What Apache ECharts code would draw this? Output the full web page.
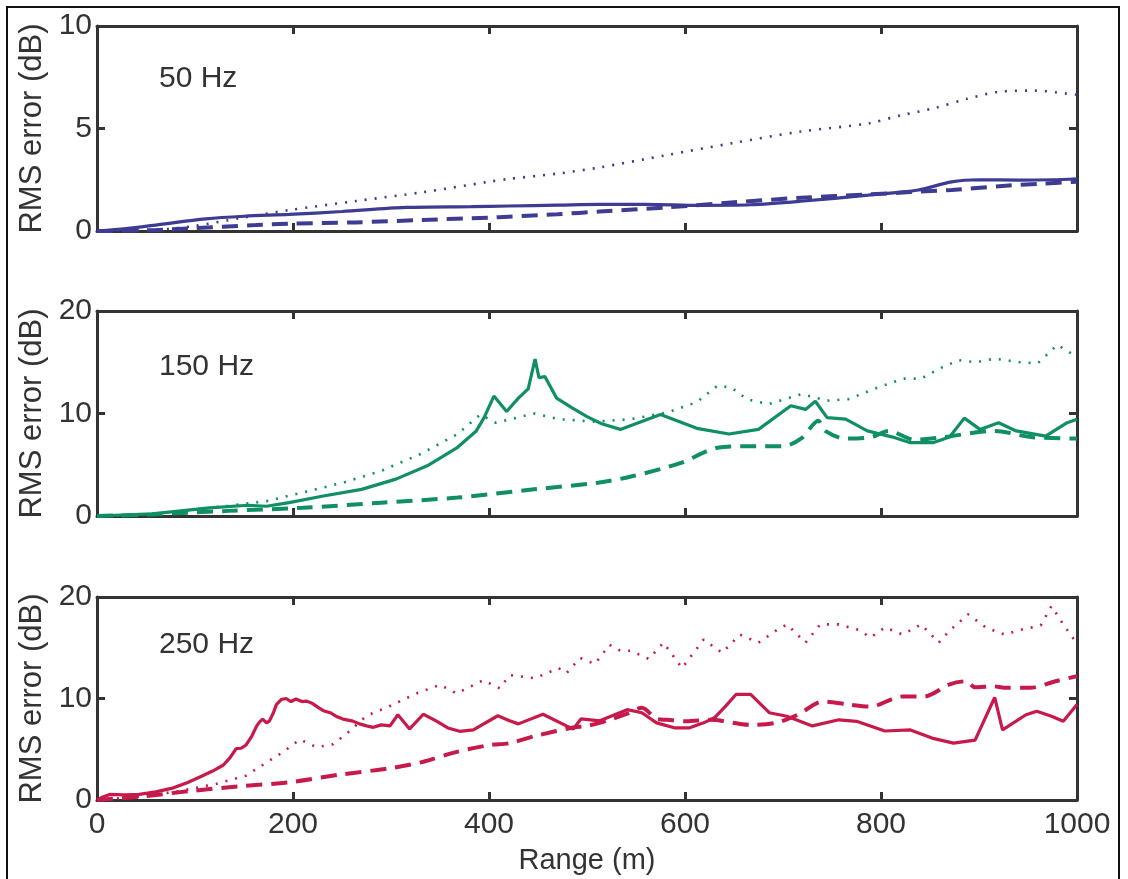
<!DOCTYPE html>
<html>
<head>
<meta charset="utf-8">
<script src="https://cdn.jsdelivr.net/npm/echarts@6/dist/echarts.min.js"></script>
<style>
html,body{margin:0;padding:0;background:#fff;}
#chart{width:1128px;height:879px;}
</style>
</head>
<body>
<div id="chart"></div>
<script>
// ---------- DATA ----------
const xTicks = [0, 200, 400, 600, 800, 1000];
const panelLabels = ['50 Hz', '150 Hz', '250 Hz'];
const yMax = [10, 20, 20];

// 50 Hz
const hz50Solid = [[0,0],[30,0.12],[60,0.29],[111,0.59],[150,0.72],[196,0.81],[250,0.95],[315,1.15],[382,1.19],[420,1.22],[470,1.26],[513,1.3],[560,1.3],[615,1.25],[667,1.28],[718,1.45],[787,1.75],[838,2.0],[872,2.4],[900,2.5],[941,2.48],[975,2.5],[1000,2.55]];
const hz50Dashed = [[0,0],[50,0.03],[94,0.13],[162,0.29],[196,0.36],[264,0.42],[332,0.54],[400,0.65],[420,0.7],[470,0.82],[513,0.95],[581,1.15],[650,1.4],[718,1.62],[787,1.78],[830,1.9],[872,2.0],[924,2.2],[960,2.3],[1000,2.4]];
const hz50Dotted = [[0,0],[60,0.05],[100,0.25],[145,0.62],[196,1.02],[264,1.46],[332,1.89],[400,2.4],[420,2.54],[470,2.8],[513,3.1],[581,3.7],[650,4.3],[718,4.85],[787,5.25],[821,5.65],[855,6.0],[888,6.45],[922,6.8],[957,6.85],[990,6.7],[1000,6.65]];

// 150 Hz
const hz150Solid = [[0,0],[56,0.2],[115,0.8],[154,1.05],[173,0.95],[196,1.3],[231,1.95],[270,2.6],[305,3.6],[337,4.9],[368,6.7],[387,8.3],[395,9.6],[405,11.7],[418,10.2],[430,11.5],[440,12.4],[447,15.3],[451,13.5],[457,13.6],[469,11.5],[484,10.6],[500,9.7],[515,9.0],[534,8.45],[575,9.9],[612,8.55],[645,8.0],[675,8.45],[708,10.75],[723,10.4],[733,11.2],[745,9.6],[764,9.45],[786,8.3],[812,7.7],[830,7.15],[853,7.15],[870,7.7],[885,9.55],[901,8.45],[920,9.1],[938,8.3],[968,7.8],[990,9.1],[1000,9.45]];
const hz150Dashed = [[0,0],[56,0.15],[134,0.5],[210,0.8],[290,1.3],[368,1.8],[446,2.6],[511,3.25],[545,3.85],[595,5.15],[633,6.65],[663,6.8],[700,6.8],[719,7.6],[736,9.3],[743,8.3],[764,7.55],[790,7.7],[808,8.3],[834,7.45],[864,7.7],[916,8.3],[953,7.7],[1000,7.55]];
const hz150Dotted = [[0,0],[56,0.15],[134,1.0],[173,1.45],[210,2.3],[251,3.25],[290,4.4],[329,6.0],[368,8.0],[391,9.9],[407,9.1],[446,10.0],[471,9.45],[508,9.2],[545,9.45],[582,10.1],[612,11.1],[633,12.7],[647,12.55],[663,11.4],[685,10.9],[719,11.9],[745,11.25],[767,11.4],[797,12.55],[823,13.4],[841,13.4],[860,14.4],[879,15.2],[897,15.0],[916,15.35],[942,15.0],[960,14.9],[980,16.7],[997,15.7],[1000,15.6]];

// 250 Hz
const hz250Solid = [[0,0],[6,0.3],[13,0.55],[28,0.5],[43,0.55],[60,0.8],[78,1.2],[92,1.7],[105,2.26],[118,2.85],[129,3.45],[136,4.2],[142,5.06],[147,5.1],[152,5.4],[158,6.3],[163,7.3],[166,7.7],[169,7.97],[173,7.6],[176,7.8],[180,8.6],[183,9.4],[188,9.9],[193,10.0],[198,9.7],[203,9.95],[209,9.7],[214,9.74],[220,9.5],[226,9.1],[231,8.8],[238,8.6],[245,8.2],[251,7.97],[260,7.8],[268,7.5],[275,7.3],[282,7.16],[290,7.4],[299,7.3],[307,8.4],[319,7.0],[333,8.45],[346,7.8],[358,7.1],[370,6.77],[384,6.9],[409,8.3],[421,7.8],[430,7.5],[455,8.45],[479,7.3],[486,7.0],[494,8.0],[513,7.8],[541,8.9],[556,8.6],[571,7.6],[590,7.1],[604,7.1],[619,7.6],[630,8.1],[641,9.2],[652,10.4],[667,10.4],[686,8.6],[704,8.25],[730,7.3],[757,7.9],[775,7.75],[804,6.8],[830,6.9],[852,6.1],[874,5.6],[896,5.9],[916,10.1],[924,6.9],[948,8.4],[959,8.75],[974,8.25],[986,7.75],[1000,9.4]];
const hz250Dashed = [[0,0],[43,0.32],[94,0.87],[145,1.35],[196,1.74],[248,2.5],[299,3.13],[333,3.77],[367,4.74],[400,5.4],[421,5.6],[447,6.3],[486,7.15],[500,7.3],[520,7.8],[541,8.5],[556,9.1],[571,8.0],[582,7.9],[601,7.75],[626,7.9],[667,7.4],[693,7.6],[715,8.4],[741,9.7],[767,9.4],[789,9.2],[822,10.2],[844,10.2],[870,11.4],[887,11.7],[896,11.1],[915,11.2],[926,11.05],[952,11.05],[978,11.7],[1000,12.2]];
const hz250Dotted = [[0,0],[40,0.3],[84,0.87],[122,1.6],[152,2.4],[169,3.45],[190,4.74],[207,5.97],[224,5.2],[241,5.5],[258,6.8],[275,8.3],[299,9.26],[326,10.5],[350,11.35],[367,10.5],[394,11.8],[411,11.0],[421,12.3],[447,12.0],[471,13.0],[479,12.5],[493,14.0],[508,13.4],[523,15.3],[534,14.7],[545,14.7],[563,13.9],[578,15.5],[597,13.0],[608,14.4],[619,15.8],[638,14.5],[656,16.3],[675,15.5],[693,16.7],[704,17.3],[723,15.5],[738,17.3],[757,17.3],[779,16.7],[789,16.0],[804,17.0],[822,16.3],[841,17.3],[859,15.5],[870,16.7],[889,18.3],[907,17.0],[926,16.3],[944,16.8],[963,17.2],[974,19.1],[986,17.3],[997,15.8],[1000,15.8]];

const panelColors = ['#3d3b92', '#0f8f63', '#c8194b'];
const panelSeries = [
  [hz50Solid, hz50Dashed, hz50Dotted],
  [hz150Solid, hz150Dashed, hz150Dotted],
  [hz250Solid, hz250Dashed, hz250Dotted]
];

// ---------- LAYOUT ----------
const FONT = "'Liberation Sans', Arial, Helvetica, sans-serif";
const AX = '#333333';
const grids = [
  {left: 97, right: 51, top: 26, height: 205},
  {left: 97, right: 51, top: 311, height: 205},
  {left: 97, right: 51, top: 597, height: 203}
];

const xAxes = [], yAxes = [], series = [];
grids.forEach((g, i) => {
  const last = i === grids.length - 1;
  const baseX = {
    type: 'value', gridIndex: i, min: xTicks[0], max: xTicks[xTicks.length - 1], interval: 200,
    axisLine: {show: true, onZero: false, lineStyle: {color: AX, width: 3}},
    axisTick: {show: true, inside: true, length: 8, lineStyle: {color: AX, width: 3}},
    splitLine: {show: false}
  };
  xAxes.push(Object.assign({}, baseX, {
    position: 'bottom',
    axisLabel: {show: last, fontSize: 30, color: AX, fontFamily: FONT, margin: 10, formatter: v => String(v)},
    name: last ? 'Range (m)' : '', nameLocation: 'middle', nameGap: 46,
    nameTextStyle: {fontSize: 29, color: AX, fontFamily: FONT}
  }));
  xAxes.push(Object.assign({}, baseX, {position: 'top', axisLabel: {show: false}}));
  const baseY = {
    type: 'value', gridIndex: i, min: 0, max: yMax[i], interval: yMax[i] / 2,
    axisLine: {show: true, onZero: false, lineStyle: {color: AX, width: 3}},
    axisTick: {show: true, inside: true, length: 8, lineStyle: {color: AX, width: 3}},
    splitLine: {show: false}
  };
  yAxes.push(Object.assign({}, baseY, {
    position: 'left',
    axisLabel: {show: true, fontSize: 30, color: AX, fontFamily: FONT, margin: 5, formatter: v => String(v)},
    name: 'RMS error (dB)', nameLocation: 'middle', nameGap: 37,
    nameTextStyle: {fontSize: 31, color: AX, fontFamily: FONT}
  }));
  yAxes.push(Object.assign({}, baseY, {position: 'right', axisLabel: {show: false}}));

  const [solid, dashed, dotted] = panelSeries[i];
  const c = panelColors[i];
  const common = {type: 'line', xAxisIndex: 2 * i, yAxisIndex: 2 * i, showSymbol: false, symbol: 'none', animation: false, clip: true};
  series.push(Object.assign({}, common, {data: dotted, lineStyle: {color: c, width: 2.6, type: [2, 8]}, smooth: i === 0 ? 0.3 : false}));
  series.push(Object.assign({}, common, {data: dashed, lineStyle: {color: c, width: 4, type: [16, 9]}, smooth: 0.3}));
  series.push(Object.assign({}, common, {data: solid, lineStyle: {color: c, width: 3.2}, smooth: i === 0 ? 0.3 : false}));
});

const labelPos = [[159, 64], [159, 352], [159, 630]];
const graphic = [
  {type: 'rect', shape: {x: 7, y: 7, width: 1112, height: 890}, style: {fill: 'none', stroke: '#111', lineWidth: 2}, silent: true}
];
panelLabels.forEach((t, i) => {
  graphic.push({type: 'text', left: labelPos[i][0], top: labelPos[i][1],
    style: {text: t, fontSize: 30, fill: AX, fontFamily: FONT}});
});

const chart = echarts.init(document.getElementById('chart'));
chart.setOption({
  backgroundColor: '#fff',
  animation: false,
  grid: grids,
  xAxis: xAxes,
  yAxis: yAxes,
  series: series,
  graphic: graphic
});
</script>
</body>
</html>
